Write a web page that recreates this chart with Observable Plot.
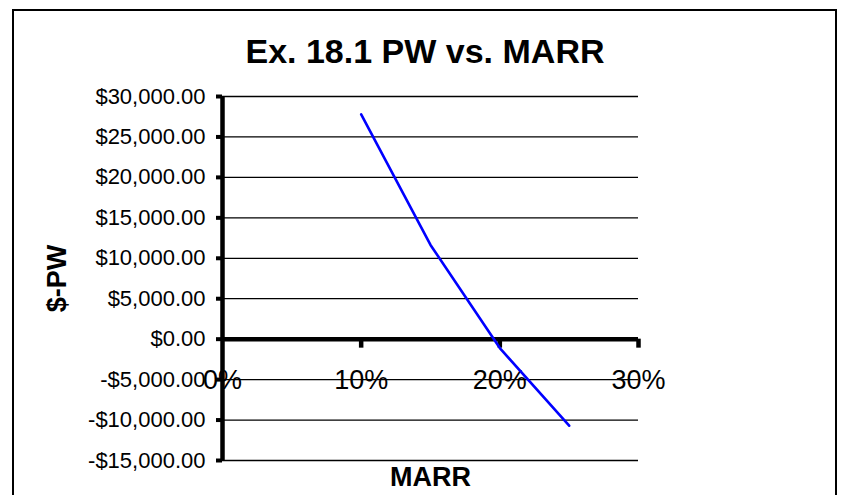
<!DOCTYPE html>
<html><head><meta charset="utf-8">
<script src="https://cdn.jsdelivr.net/npm/d3@7"></script>
<script src="https://cdn.jsdelivr.net/npm/@observablehq/plot@0.6"></script>
<style>
html,body{margin:0;padding:0;overflow:hidden;width:842px;height:495px;background:#fff;font-family:"Liberation Sans",Arial,sans-serif;}
#frame{position:absolute;left:12px;top:9px;width:821px;height:520px;border:2px solid #000;}
#title{position:absolute;left:13px;width:824px;top:34px;text-align:center;font-weight:bold;font-size:34px;line-height:34px;color:#000;}
#chart{position:absolute;left:0;top:75px;}
</style></head><body>
<div id="frame"></div>
<div id="title"></div>
<div id="chart"></div>
<script>
const chartTitle = "Ex. 18.1 PW vs. MARR";
const xLabel = "MARR";
const yLabel = "$-PW";
const marr = [0.10, 0.15, 0.20, 0.25];
const pw = [27800, 11650, -1100, -10700];
const yTicks = [-15000, -10000, -5000, 0, 5000, 10000, 15000, 20000, 25000, 30000];
const xTicks = [0, 0.1, 0.2, 0.3];
const xTickLabels = ["0%", "10%", "20%", "30%"];

document.getElementById("title").textContent = chartTitle;
const data = marr.map((m, i) => ({marr: m, pw: pw[i]}));
const fmt = d => (d < 0 ? "-" : "") + "$" + d3.format(",.2f")(Math.abs(d));

const chart = Plot.plot({
  width: 842,
  height: 420,
  marginTop: 21,
  marginBottom: 35,
  marginLeft: 222,
  marginRight: 204,
  style: {background: "transparent", fontFamily: '"Liberation Sans", Arial, sans-serif', color: "#000", overflow: "visible"},
  x: {domain: [0, 0.3], axis: null},
  y: {domain: [-15000, 30000], axis: null},
  marks: [
    Plot.ruleY(yTicks, {stroke: "#000", strokeWidth: 1.3}),
    Plot.axisY(yTicks, {tickFormat: fmt, tickSize: 6, tickPadding: 11, strokeWidth: 4, fontSize: 22, fill: "#000", label: null}),
    Plot.ruleY([0], {stroke: "#000", strokeWidth: 4.5}),
    Plot.ruleX([0], {stroke: "#000", strokeWidth: 4.5}),
    Plot.ruleX(xTicks.slice(1), {x: d => d, y1: 0, y2: 0, insetBottom: -9, stroke: "#000", strokeWidth: 4.5}),
    Plot.text(xTicks, {x: d => d, y: 0, text: (d, i) => xTickLabels[i], dy: 41, fontSize: 27, fill: "#000"}),
    Plot.line(data, {x: "marr", y: "pw", stroke: "#0000ff", strokeWidth: 2.6}),
    Plot.text([yLabel], {frameAnchor: "left", textAnchor: "middle", lineAnchor: "middle", text: d => d, dx: -165, rotate: -90, fontSize: 27, fontWeight: "bold", fill: "#000"}),
    Plot.text([xLabel], {frameAnchor: "bottom", textAnchor: "middle", lineAnchor: "middle", text: d => d, dy: 17, fontSize: 27, fontWeight: "bold", fill: "#000"})
  ]
});
document.getElementById("chart").appendChild(chart);
</script>
</body></html>
